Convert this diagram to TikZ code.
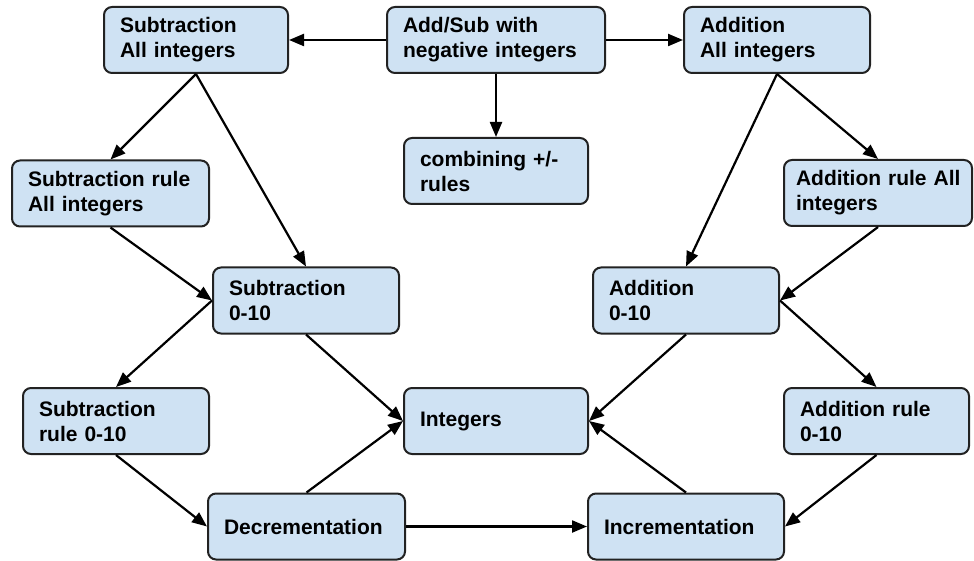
\documentclass[tikz,border=0pt]{standalone}
\usepackage{fontspec}
\setmainfont{Liberation Sans}
\usetikzlibrary{arrows.meta}
\definecolor{boxfill}{HTML}{CFE2F3}
\definecolor{boxline}{HTML}{222222}
\begin{document}
\begin{tikzpicture}[x=1pt,y=-1pt,
  box/.style={draw=boxline, fill=boxfill, line width=2pt, rounded corners=8pt,
    minimum height=66pt, inner xsep=16pt, inner ysep=0pt, align=left,
    font=\fontsize{21}{25}\selectfont\bfseries},
  conn/.style={line width=2.2pt, -{Triangle[length=15pt,width=12pt]}}]
\useasboundingbox (0,0) rectangle (974,561);
\node[box, text width=152pt] (subAll) at (196,40) {Subtraction\\All integers};
\node[box, text width=186pt] (addsub) at (496,40) {Add/Sub with\\negative integers};
\node[box, text width=154pt] (addAll) at (777,40) {Addition\\All integers};
\node[box, text width=152pt] (comb) at (496,171) {combining +/-\\rules};
\node[box, text width=165pt] (subRuleAll) at (110.5,193.5) {Subtraction rule\\All integers};
\node[box, text width=164pt, inner xsep=12pt] (addRuleAll) at (878,193) {\makebox[164pt][l]{Addition rule All}\\integers};
\node[box, text width=154pt] (sub010) at (306,300.5) {Subtraction\\0-10};
\node[box, text width=154pt] (add010) at (686,300.5) {Addition\\0-10};
\node[box, text width=154pt] (subRule010) at (116,421) {Subtraction\\rule 0-10};
\node[box, text width=152pt] (integers) at (496,421) {Integers};
\node[box, text width=153pt] (addRule010) at (876.5,421) {Addition rule\\0-10};
\node[box, text width=165pt] (decr) at (306.5,526.5) {Decrementation};
\node[box, text width=164pt] (incr) at (686,526.5) {Incrementation};
\draw[conn] (addsub.west) -- (subAll.east);
\draw[conn] (addsub.east) -- (addAll.west);
\draw[conn] (addsub.south) -- (comb.north);
\draw[conn] (subAll.south) -- (subRuleAll.north);
\draw[conn] (subAll.south) -- (sub010.north);
\draw[conn] (subRuleAll.south) -- (sub010.west);
\draw[conn] (sub010.west) -- (subRule010.north);
\draw[conn] (sub010.south) -- (integers.west);
\draw[conn] (subRule010.south) -- (decr.west);
\draw[conn] (decr.north) -- (integers.west);
\draw[conn] (decr.east) -- (incr.west);
\draw[conn] (incr.north) -- (integers.east);
\draw[conn] (add010.south) -- (integers.east);
\draw[conn] (addAll.south) -- (add010.north);
\draw[conn] (addAll.south) -- (addRuleAll.north);
\draw[conn] (addRuleAll.south) -- (add010.east);
\draw[conn] (add010.east) -- (addRule010.north);
\draw[conn] (addRule010.south) -- (incr.east);
\end{tikzpicture}
\end{document}
